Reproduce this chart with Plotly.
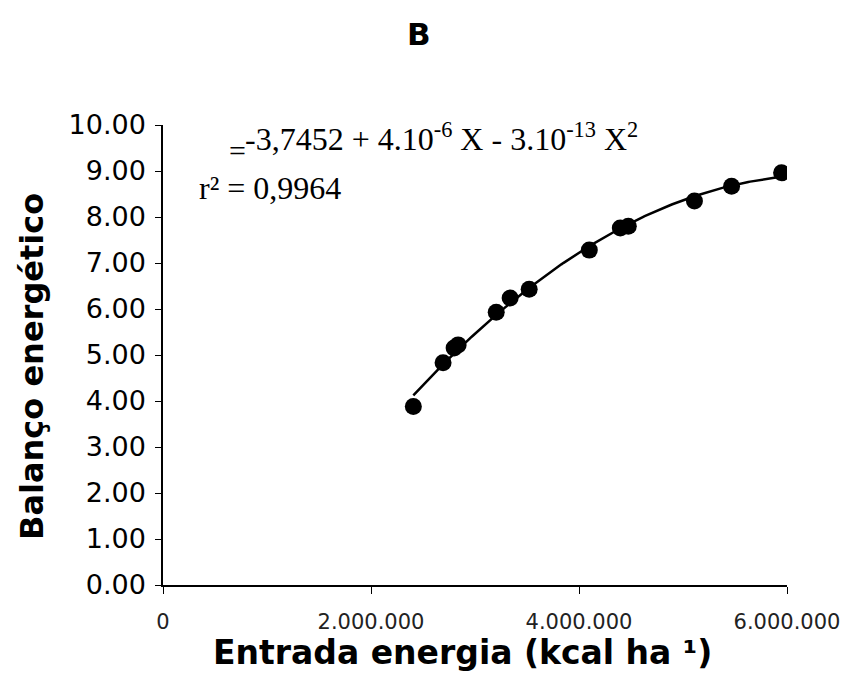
import numpy as np
import plotly.graph_objects as go

# Data
entrada = [2407000, 2693000, 2799000, 2838000, 3204000, 3338000, 3521000,
           4099000, 4397000, 4474000, 5110000, 5467000, 5948000]
balanco = [3.88, 4.83, 5.15, 5.22, 5.93, 6.24, 6.43,
           7.28, 7.76, 7.80, 8.35, 8.67, 8.96]

x_tickvals = [0, 2000000, 4000000, 6000000]
x_ticktext = ["0", "2.000.000", "4.000.000", "6.000.000"]
y_tickvals = [0, 1, 2, 3, 4, 5, 6, 7, 8, 9, 10]

title_text = "B"
x_title = "Entrada energia (kcal ha ¹)"
y_title = "Balanço energético"
eq_text = "-3,7452 + 4.10<sup>-6</sup> X - 3.10<sup>-13</sup> X<sup>2</sup>"
r2_text = "r² = 0,9964"

# Quadratic trendline fitted to the data
coef = np.polyfit(np.array(entrada, float), np.array(balanco, float), 2)
xs = np.linspace(min(entrada), max(entrada), 200)
ys = np.polyval(coef, xs)

fig = go.Figure()
fig.add_trace(go.Scatter(x=xs, y=ys, mode="lines",
                         line=dict(color="black", width=2.5),
                         hoverinfo="skip", showlegend=False))
fig.add_trace(go.Scatter(x=entrada, y=balanco, mode="markers",
                         marker=dict(color="black", size=17),
                         showlegend=False))

L, R, T, B = 163, 58, 125, 107
W, H = 845, 692

def px(xp):
    return (xp - L) / (W - L - R)

def py(yp):
    return (H - B - yp) / (H - B - T)

SANS = "DejaVu Sans, Arial"
SERIF = "Liberation Serif, Times New Roman"

fig.update_layout(
    template="none",
    width=W, height=H,
    margin=dict(l=L, r=R, t=T, b=B, autoexpand=False),
    paper_bgcolor="white", plot_bgcolor="white",
    showlegend=False,
    font=dict(family=SANS, color="black"),
    xaxis=dict(range=[0, 6000000], tickvals=x_tickvals, ticktext=x_ticktext,
               showgrid=False, zeroline=False, showline=True, automargin=False,
               linecolor="black", linewidth=1.5,
               ticks="outside", ticklen=7, tickcolor="black",
               ticklabelstandoff=10,
               tickfont=dict(size=21, color="#222", family=SANS), fixedrange=True),
    yaxis=dict(range=[0, 10], tickvals=y_tickvals, tickformat=".2f",
               showgrid=False, zeroline=False, showline=True, automargin=False,
               linecolor="black", linewidth=1.5,
               ticks="outside", ticklen=6, tickcolor="black",
               ticklabelstandoff=4,
               tickfont=dict(size=27, color="black", family=SANS), fixedrange=True),
)

annotations = [
    dict(text="<b>" + title_text + "</b>", x=px(419), y=py(34),
         font=dict(size=31, family=SANS)),
    dict(text="<b>" + x_title + "</b>", x=px(462), y=py(652),
         font=dict(size=33, family=SANS)),
    dict(text="<b>" + y_title + "</b>", x=px(32), y=py(367), textangle=-90,
         font=dict(size=32, family=SANS)),
    dict(text="=", x=px(227), y=py(150), xanchor="left",
         font=dict(size=30, family=SERIF)),
    dict(text=eq_text, x=px(243), y=py(137), xanchor="left",
         font=dict(size=32, family=SERIF)),
    dict(text=r2_text, x=px(197), y=py(188), xanchor="left",
         font=dict(size=32, family=SERIF)),
]
for a in annotations:
    a.update(xref="paper", yref="paper", showarrow=False)
    a.setdefault("xanchor", "center")
    a["yanchor"] = "middle"
fig.update_layout(annotations=annotations)

fig.write_html("out.html")
